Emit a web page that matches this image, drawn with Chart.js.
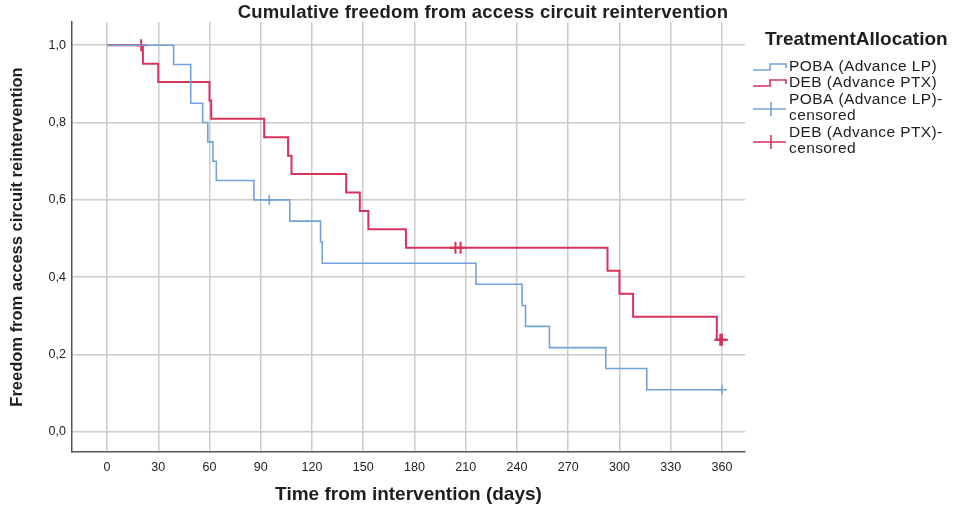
<!DOCTYPE html>
<html>
<head>
<meta charset="utf-8">
<script src="https://cdn.jsdelivr.net/npm/chart.js@4/dist/chart.umd.min.js"></script>
<style>
  html, body { margin: 0; padding: 0; background: #fff; }
  #wrap { width: 965px; height: 512px; position: relative; }
</style>
</head>
<body>
<div id="wrap"><canvas id="kmChart"></canvas></div>
<script>
// Kaplan-Meier steps (days, survival)
const pobaDays = [0, 39, 49, 56, 59, 62, 64, 86, 107, 125, 126, 216, 243, 245, 259, 292, 316, 360];
const pobaSurv = [1.0, 0.95, 0.85, 0.80, 0.75, 0.70, 0.65, 0.60, 0.545, 0.491, 0.436, 0.382, 0.327, 0.273, 0.218, 0.164, 0.109, 0.109];
const debDays = [0, 21, 30, 60, 61, 92, 106, 108, 140, 148, 153, 175, 293, 300, 308, 357, 360];
const debSurv = [1.0, 0.952, 0.905, 0.857, 0.810, 0.762, 0.714, 0.667, 0.619, 0.571, 0.524, 0.476, 0.417, 0.357, 0.298, 0.238, 0.238];

// censored marks
const pobaCensDays = [95, 360];
const pobaCensSurv = [0.60, 0.109];
const debCensDays = [20, 204, 207, 359, 360];
const debCensSurv = [1.0, 0.476, 0.476, 0.238, 0.238];

const xTicks = [0, 30, 60, 90, 120, 150, 180, 210, 240, 270, 300, 330, 360];
const yTicks = [0, 0.2, 0.4, 0.6, 0.8, 1.0];

const chartTitle = 'Cumulative freedom from access circuit reintervention';
const legendTitle = 'TreatmentAllocation';
const seriesLabels = ['POBA (Advance LP)', 'DEB (Advance PTX)', 'POBA (Advance LP)-censored', 'DEB (Advance PTX)-censored'];

const blue = '#72a2da';
const red = '#d6325c';
const fontFam = '"Liberation Sans", Arial, sans-serif';

const toPoints = (xs, ys) => xs.map((x, i) => ({ x: x, y: ys[i] }));

// title + legend drawn by hand, SPSS style
const kmDecor = {
  id: 'kmDecor',
  afterDraw(chart) {
    const ctx = chart.ctx;
    ctx.save();
    ctx.fillStyle = '#1e1e1e';
    ctx.textBaseline = 'middle';

    ctx.textAlign = 'center';
    ctx.font = 'bold 18.5px ' + fontFam;
    ctx.letterSpacing = '0.2px';
    ctx.fillText(chartTitle, 483, 13);

    ctx.textAlign = 'left';
    ctx.letterSpacing = '0px';
    ctx.font = 'bold 19px ' + fontFam;
    ctx.fillText(legendTitle, 765, 40);

    ctx.font = '15.5px ' + fontFam;
    ctx.letterSpacing = '0.4px';
    const tx = 789;
    const rows = [67, 83, 100, 116, 133, 149];

    const stepIcon = (y, color) => {
      ctx.strokeStyle = color;
      ctx.lineWidth = 1.6;
      ctx.beginPath();
      ctx.moveTo(753, y + 3);
      ctx.lineTo(770, y + 3);
      ctx.lineTo(770, y - 3);
      ctx.lineTo(786, y - 3);
      ctx.lineTo(786, y + 1);
      ctx.stroke();
    };
    const crossIcon = (y, color) => {
      ctx.strokeStyle = color;
      ctx.lineWidth = 1.6;
      ctx.beginPath();
      ctx.moveTo(753, y);
      ctx.lineTo(786, y);
      ctx.moveTo(771, y - 7);
      ctx.lineTo(771, y + 7);
      ctx.stroke();
    };

    stepIcon(rows[0], blue);
    ctx.fillText(seriesLabels[0], tx, rows[0]);
    stepIcon(rows[1], red);
    ctx.fillText(seriesLabels[1], tx, rows[1]);

    crossIcon((rows[2] + rows[3]) / 2 + 1, blue);
    const p1 = seriesLabels[2].split('-');
    ctx.fillText(p1[0] + '-', tx, rows[2]);
    ctx.fillText(p1[1], tx, rows[3]);

    crossIcon((rows[4] + rows[5]) / 2 + 1, red);
    const p2 = seriesLabels[3].split('-');
    ctx.fillText(p2[0] + '-', tx, rows[4]);
    ctx.fillText(p2[1], tx, rows[5]);
    ctx.restore();
  }
};

new Chart(document.getElementById('kmChart'), {
  type: 'line',
  data: {
    datasets: [
      {
        label: seriesLabels[0],
        data: toPoints(pobaDays, pobaSurv),
        stepped: true,
        borderColor: blue,
        borderWidth: 1.6,
        pointRadius: 0,
        fill: false
      },
      {
        label: seriesLabels[1],
        data: toPoints(debDays, debSurv),
        stepped: true,
        borderColor: red,
        borderWidth: 2,
        pointRadius: 0,
        fill: false
      },
      {
        label: seriesLabels[2],
        data: toPoints(pobaCensDays, pobaCensSurv),
        showLine: false,
        pointStyle: 'cross',
        pointRadius: 5,
        pointBorderWidth: 1.5,
        borderColor: blue,
        backgroundColor: blue
      },
      {
        label: seriesLabels[3],
        data: toPoints(debCensDays, debCensSurv),
        showLine: false,
        pointStyle: 'cross',
        pointRadius: 6,
        pointBorderWidth: 2,
        borderColor: red,
        backgroundColor: red
      }
    ]
  },
  options: {
    responsive: true,
    maintainAspectRatio: false,
    animation: false,
    layout: { padding: { left: 0, right: 220, top: 22, bottom: 0 } },
    plugins: {
      legend: { display: false },
      tooltip: { enabled: false },
      title: { display: false }
    },
    scales: {
      x: {
        type: 'linear',
        min: -20.5,
        max: 373.5,
        afterBuildTicks: (scale) => { scale.ticks = xTicks.map(v => ({ value: v })); },
        afterFit: (scale) => { scale.height = 60; },
        grid: { color: '#cbcbcb', lineWidth: 1.5, drawTicks: false },
        border: { color: '#555', width: 1.5 },
        ticks: {
          padding: 8,
          color: '#222',
          font: { family: fontFam, size: 12.5 },
          callback: (v) => v
        },
        title: {
          display: true,
          text: 'Time from intervention (days)',
          color: '#1e1e1e',
          font: { family: fontFam, size: 19, weight: 'bold' },
          padding: { top: 0, bottom: 6 }
        }
      },
      y: {
        min: -0.052,
        max: 1.06,
        afterBuildTicks: (scale) => { scale.ticks = yTicks.map(v => ({ value: v })); },
        afterFit: (scale) => { scale.width = 72; },
        grid: { color: '#cbcbcb', lineWidth: 1.5, drawTicks: false },
        border: { color: '#555', width: 1.5 },
        ticks: {
          padding: 6,
          color: '#222',
          font: { family: fontFam, size: 12.5 },
          callback: (v) => v.toFixed(1).replace('.', ',')
        },
        title: {
          display: true,
          text: 'Freedom from access circuit reintervention',
          color: '#1e1e1e',
          font: { family: fontFam, size: 16.5, weight: 'bold' },
          padding: { top: 8, bottom: 0 }
        }
      }
    }
  },
  plugins: [kmDecor]
});
</script>
</body>
</html>
